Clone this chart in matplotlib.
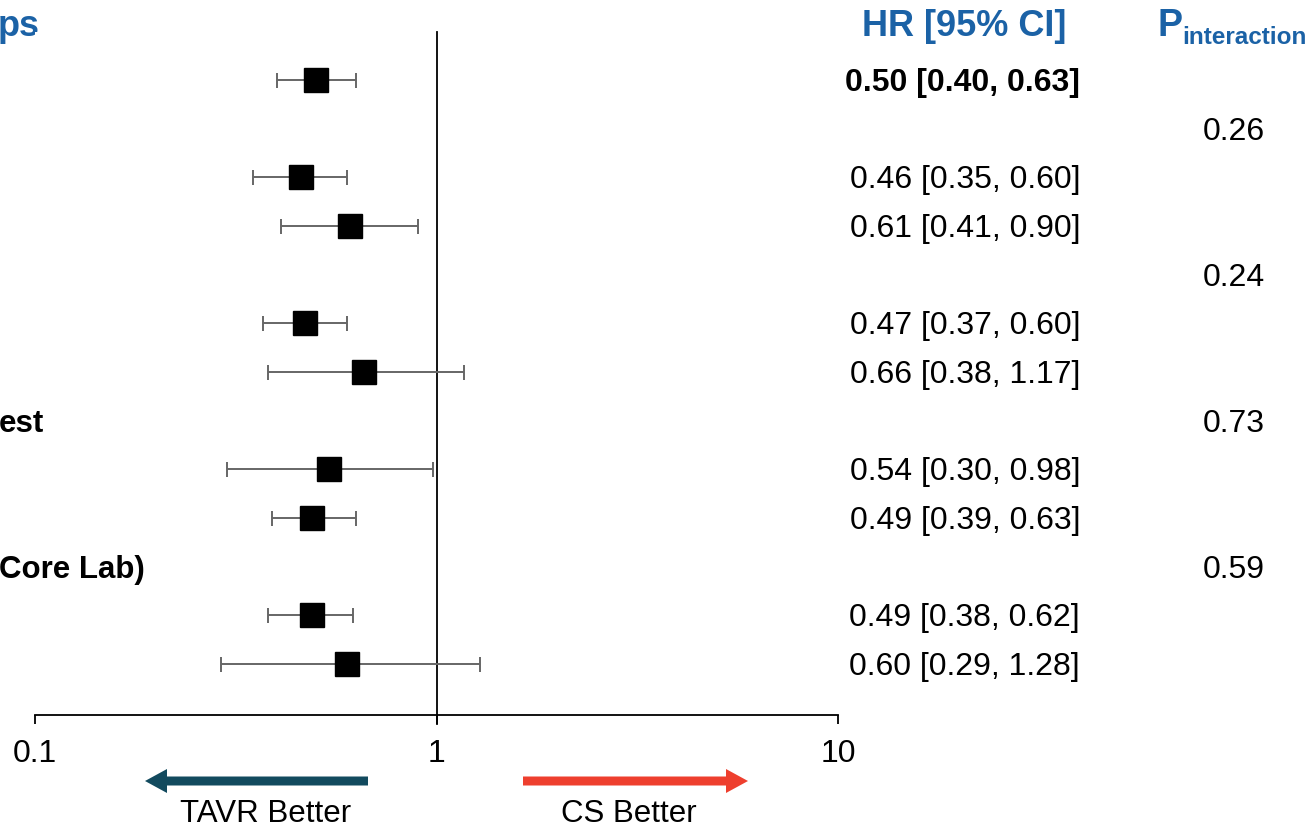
import matplotlib.pyplot as plt
import matplotlib.transforms as mtransforms
from matplotlib.patches import FancyArrow

plt.rcParams['font.family'] = ['Liberation Sans', 'DejaVu Sans']

# rows with an estimate (row index from top) and their values
est_rows = [0, 2, 3, 5, 6, 8, 9, 11, 12]
hr = [0.50, 0.46, 0.61, 0.47, 0.66, 0.54, 0.49, 0.49, 0.60]
ci_lo = [0.40, 0.35, 0.41, 0.37, 0.38, 0.30, 0.39, 0.38, 0.29]
ci_hi = [0.63, 0.60, 0.90, 0.60, 1.17, 0.98, 0.63, 0.62, 1.28]
hr_text = ['0.50 [0.40, 0.63]', '0.46 [0.35, 0.60]', '0.61 [0.41, 0.90]',
           '0.47 [0.37, 0.60]', '0.66 [0.38, 1.17]', '0.54 [0.30, 0.98]',
           '0.49 [0.39, 0.63]', '0.49 [0.38, 0.62]', '0.60 [0.29, 1.28]']

# subgroup header rows with interaction p-values
p_rows = [1, 4, 7, 10]
p_vals = ['0.26', '0.24', '0.73', '0.59']

# left labels (cropped in the original)
label_rows = [7, 10]
label_text = ['est', 'Core Lab)']

xticks = [0.1, 1, 10]
xticklabels = ['0.1', '1', '10']

W, H = 1313, 831
blue = '#1B62A6'

fig = plt.figure(figsize=(W / 100, H / 100), dpi=100)

# forest axes: x 35..838 px, y 32..715 px from top
ax = fig.add_axes([35 / W, 1 - 715 / H, (838 - 35) / W, (715 - 32) / H])
row_h = (664 - 80) / 12
top_row = -(80 - 32) / row_h
bot_row = (715 - 80) / row_h
ax.set_xscale('log')
ax.set_xlim(0.1, 10)
ax.set_ylim(bot_row, top_row)

lo_err = [h - l for h, l in zip(hr, ci_lo)]
hi_err = [u - h for h, u in zip(hr, ci_hi)]
ax.errorbar(hr, est_rows, xerr=[lo_err, hi_err], fmt='none', ecolor='#666666',
            elinewidth=1.4, capsize=5.4, capthick=1.4, zorder=2)
ax.plot(hr, est_rows, 's', color='black', markersize=17.5, zorder=3)

ax.axvline(1, ymin=-9 / 683, ymax=1, color='black', lw=1.3, clip_on=False, zorder=1)

for s in ['top', 'right', 'left']:
    ax.spines[s].set_visible(False)
ax.spines['bottom'].set_linewidth(1.3)
ax.set_yticks([])
ax.set_xticks(xticks)
ax.set_xticklabels(xticklabels)
ax.minorticks_off()
ax.tick_params(axis='x', direction='out', length=6.5, width=1.3, pad=11, labelsize=23)

# text columns: x in figure px, y in row units
trans = mtransforms.blended_transform_factory(
    mtransforms.Affine2D().scale(1 / W, 1) + fig.transFigure, ax.transData)
dy = 0.06
for i, (r, t) in enumerate(zip(est_rows, hr_text)):
    ax.text(1080, r + dy, t, transform=trans, ha='right', va='center', fontsize=23,
            fontweight='bold' if i == 0 else 'normal')
for r, p in zip(p_rows, p_vals):
    ax.text(1265, r + dy, p, transform=trans, ha='right', va='center', fontsize=23)
for r, t in zip(label_rows, label_text):
    ax.text(-1, r + dy, t, transform=trans, ha='left', va='center', fontsize=22.5,
            fontweight='bold')

# overlay in pixel units for headers and arrows
ov = fig.add_axes([0, 0, 1, 1], zorder=-1)
ov.set_xlim(0, W)
ov.set_ylim(H, 0)
ov.axis('off')

ov.text(-2, 27, 'ps', ha='left', va='center', fontsize=26, fontweight='bold', color=blue)
ov.text(964, 27, 'HR [95% CI]', ha='center', va='center', fontsize=26,
        fontweight='bold', color=blue)
ov.text(1157, 26, 'P', ha='left', va='center', fontsize=27, fontweight='bold', color=blue)
ov.text(1182, 37, 'interaction', ha='left', va='center', fontsize=17.5,
        fontweight='bold', color=blue)

ov.add_patch(FancyArrow(368, 781, -223, 0, width=9, head_width=24, head_length=22,
                        length_includes_head=True, color='#124A5E', lw=0))
ov.add_patch(FancyArrow(523, 781, 225, 0, width=9, head_width=24, head_length=22,
                        length_includes_head=True, color='#EE3F2E', lw=0))
ov.text(266, 822, 'TAVR Better', ha='center', va='baseline', fontsize=22.5)
ov.text(629, 822, 'CS Better', ha='center', va='baseline', fontsize=22.5)

fig.savefig('out.png', dpi=100)
